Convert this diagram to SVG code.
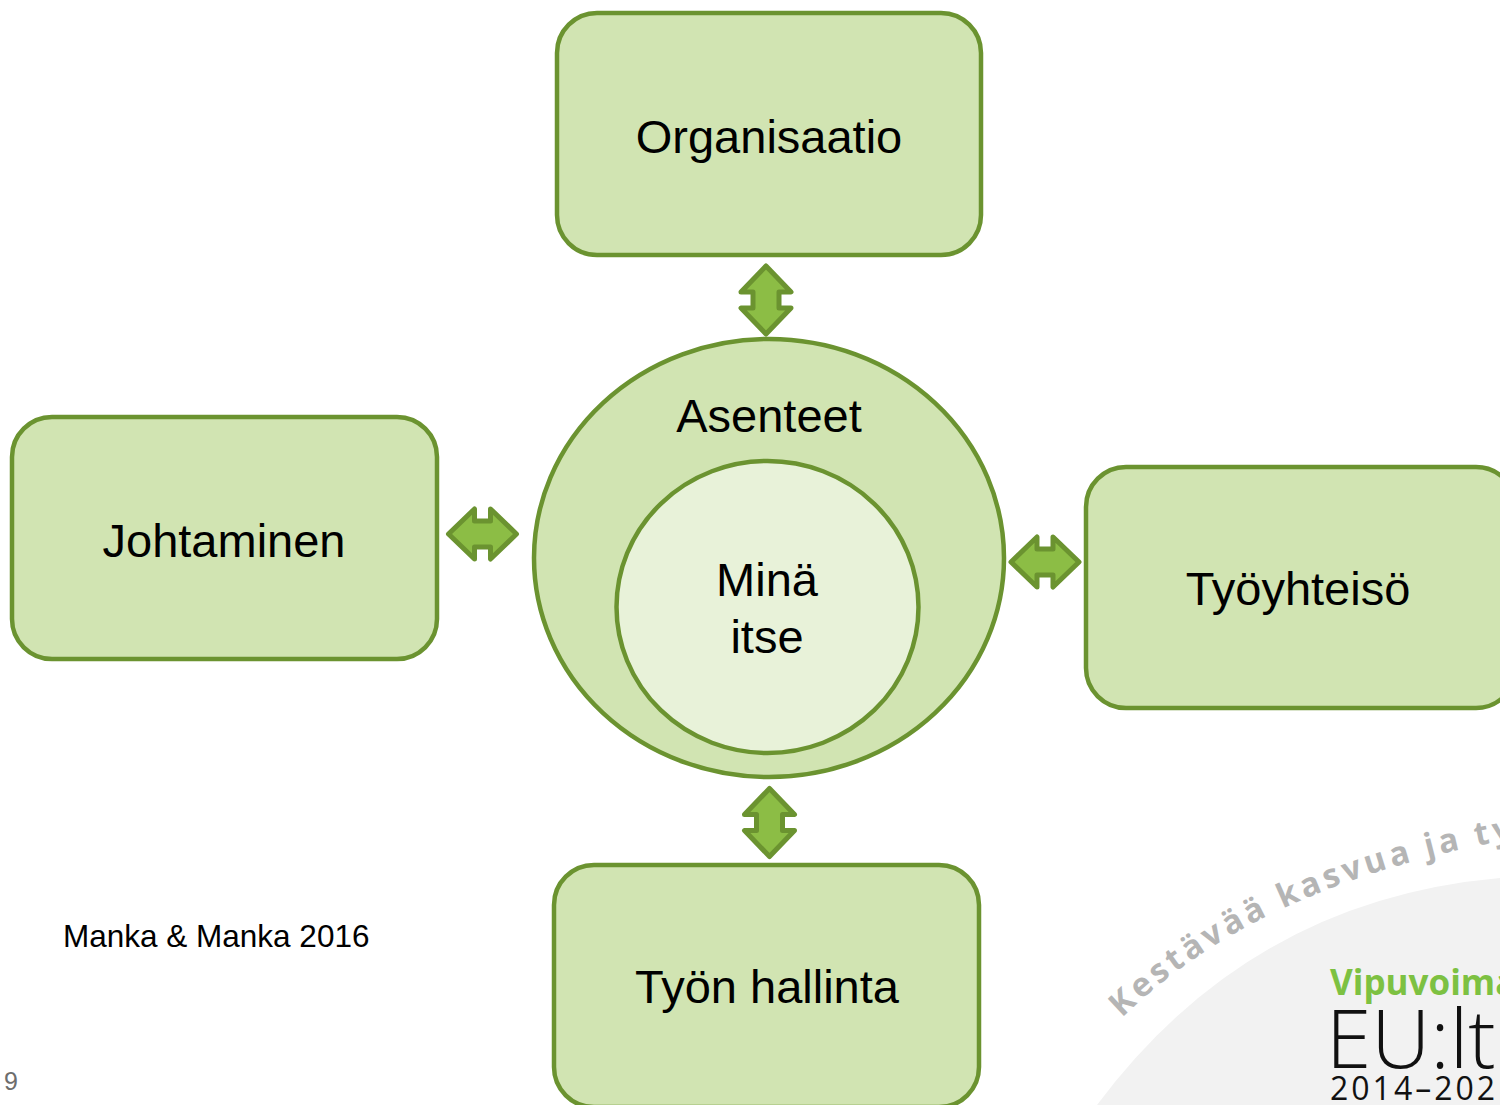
<svg xmlns="http://www.w3.org/2000/svg" width="1500" height="1105" viewBox="0 0 1500 1105">
<style>
.box{fill:#d1e4b2;stroke:#6b9330;stroke-width:4.5}
.outer{fill:#d1e4b2;stroke:#6b9330;stroke-width:4.5}
.inner{fill:#e8f2d9;stroke:#6b9330;stroke-width:4.5}
.lbl{font-family:"Liberation Sans",Arial,sans-serif;font-size:47px;fill:#000;text-anchor:middle}
.arr{fill:#8cbd45;stroke:#6b9330;stroke-width:5;stroke-linejoin:round}
</style>
<defs>
<path id="dbl" d="M0,-34 L25,-8 L13,-8 L13,8 L25,8 L0,34 L-25,8 L-13,8 L-13,-8 L-25,-8 Z"/>
<path id="arcText" d="M1122,1018 Q1262,880 1530,836"/>
</defs>
<rect width="1500" height="1105" fill="#ffffff"/>

<g id="logo">
<path d="M1097,1105 Q1250,900 1500,878 L1500,1105 Z" fill="#f2f2f2"/>
<text font-family="'Open Sans','DejaVu Sans',sans-serif" font-weight="700" font-size="33" letter-spacing="4" fill="#b5b5b5"><textPath href="#arcText">Kestävää kasvua ja ty</textPath></text>
<text x="1330" y="995" font-family="'Open Sans','DejaVu Sans',sans-serif" font-weight="700" font-size="35" fill="#7dc142">Vipuvoima</text>
<text x="1326" y="1068" font-family="'Open Sans','DejaVu Sans',sans-serif" font-weight="300" font-size="82" fill="#111">EU:lt</text>
<text x="1330" y="1100" font-family="'Open Sans','DejaVu Sans',sans-serif" font-size="32" letter-spacing="3" fill="#111">2014–202</text>
</g>

<g id="connectors">
<use href="#dbl" class="arr" transform="translate(766,300)"/>
<use href="#dbl" class="arr" transform="translate(769.5,822.5)"/>
<use href="#dbl" class="arr" transform="translate(482.5,534) rotate(90)"/>
<use href="#dbl" class="arr" transform="translate(1045,562) rotate(90)"/>
</g>

<g id="organisaatio">
<rect class="box" x="557" y="13" width="424" height="242" rx="40"/>
<text class="lbl" x="769" y="153">Organisaatio</text>
</g>

<g id="johtaminen">
<rect class="box" x="12" y="417" width="425" height="242" rx="40"/>
<text class="lbl" x="224" y="557">Johtaminen</text>
</g>

<g id="tyoyhteiso">
<rect class="box" x="1086" y="467" width="430" height="241" rx="40"/>
<text class="lbl" x="1298" y="605">Työyhteisö</text>
</g>

<g id="tyon-hallinta">
<rect class="box" x="554" y="865" width="425" height="242" rx="40"/>
<text class="lbl" x="767" y="1003">Työn hallinta</text>
</g>

<g id="asenteet">
<ellipse class="outer" cx="769" cy="558" rx="235" ry="219"/>
<text class="lbl" x="769" y="432">Asenteet</text>
</g>

<g id="mina-itse">
<ellipse class="inner" cx="767.5" cy="607" rx="151" ry="146"/>
<text class="lbl" x="767" y="596">Minä</text>
<text class="lbl" x="767" y="653">itse</text>
</g>

<text x="63" y="947" font-family="'Liberation Sans',Arial,sans-serif" font-size="31.5" fill="#000">Manka &amp; Manka 2016</text>
<text x="4" y="1090" font-family="'Liberation Sans',Arial,sans-serif" font-size="25" fill="#6d6d6d">9</text>
</svg>
